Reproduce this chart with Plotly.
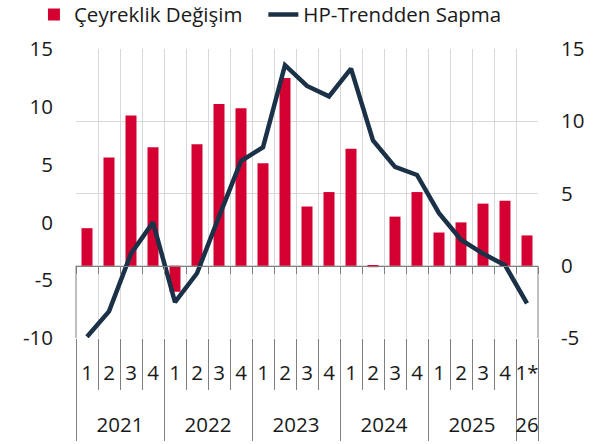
import plotly.graph_objects as go

# ---- data ----
years = ["2021", "2021", "2021", "2021",
         "2022", "2022", "2022", "2022",
         "2023", "2023", "2023", "2023",
         "2024", "2024", "2024", "2024",
         "2025", "2025", "2025", "2025",
         "26"]
quarters = ["1", "2", "3", "4",
            "1", "2", "3", "4",
            "1", "2", "3", "4",
            "1", "2", "3", "4",
            "1", "2", "3", "4",
            "1*"]
ceyreklik_degisim = [2.6, 7.5, 10.4, 8.2,
                     -1.8, 8.4, 11.2, 10.9,
                     7.1, 13.0, 4.1, 5.1,
                     8.1, -0.1, 3.4, 5.1,
                     2.3, 3.0, 4.3, 4.5,
                     2.1]
hp_trendden_sapma = [-9.9, -7.7, -2.7, 0.0,
                     -6.9, -4.4, 0.5, 5.3,
                     6.5, 13.6, 11.8, 10.9,
                     13.3, 7.1, 4.8, 4.1,
                     0.8, -1.5, -2.7, -3.7,
                     -7.0]
right_ticks = [-5, 0, 5, 10, 15]
right_labels = ["-5", "0", "5", "10", "15"]
left_ticks = [-10, -5, 0, 5, 10, 15]
left_labels = ["-10", "-5", "0", "5", "10", "15"]

RED = "#D50032"
NAVY = "#1B3147"
GRID = "#D9D9D9"
AXIS = "#7F7F7F"
TXT = "#1A1A1A"
FONT = "Open Sans"
FS = 20.5
PAD = "\u00a0\u00a0\u00a0"  # extra spacing after the first legend entry

# ---- derived category helpers ----
n = len(quarters)
keys = [f"{y}-Q{q}" for y, q in zip(years, quarters)]
boundaries = [i - 0.5 for i in range(n + 1)]
year_names = []
for y in years:
    if y not in year_names:
        year_names.append(y)
year_idx = {y: [i for i, v in enumerate(years) if v == y] for y in year_names}
year_centers = [sum(year_idx[y]) / len(year_idx[y]) for y in year_names]
year_bounds = [year_idx[year_names[0]][0] - 0.5] + [year_idx[y][-1] + 0.5 for y in year_names]
r_min, r_max = right_ticks[0], right_ticks[-1]
zero_pos = (0 - r_min) / (r_max - r_min)
xrange = [boundaries[0], boundaries[-1]]

fig = go.Figure()
fig.add_trace(go.Bar(
    x=keys, y=ceyreklik_degisim, name="Çeyreklik Değişim" + PAD,
    marker=dict(color=RED, line=dict(width=0)), width=0.5,
    xaxis="x", yaxis="y",
))
fig.add_trace(go.Scatter(
    x=keys, y=hp_trendden_sapma, name="HP-Trendden Sapma",
    mode="lines", line=dict(color=NAVY, width=4.5),
    xaxis="x", yaxis="y2",
))
# invisible helper traces so the decorative overlay axes get drawn
for ax in ["x2", "x3", "x4"]:
    fig.add_trace(go.Scatter(x=[None], y=[None], xaxis=ax, yaxis="y",
                             showlegend=False, hoverinfo="skip"))

fig.update_layout(
    width=602, height=444,
    margin=dict(l=76, r=64, t=49, b=106, autoexpand=False),
    paper_bgcolor="white", plot_bgcolor="white",
    font=dict(family=FONT, size=FS, color=TXT),
    showlegend=True,
    legend=dict(orientation="h", x=-0.091, xanchor="left",
                y=1.119, yanchor="middle",
                font=dict(size=FS, color=TXT), bgcolor="rgba(0,0,0,0)",
                itemclick=False),
    xaxis=dict(
        type="category", categoryorder="array", categoryarray=keys,
        range=xrange, tickmode="array", tickvals=keys, ticktext=quarters,
        showgrid=True, gridcolor=GRID, gridwidth=1,
        tickson="boundaries", ticks="outside", ticklen=51, tickcolor=AXIS,
        tickfont=dict(size=FS, color=TXT), tickangle=0, ticklabelstandoff=20,
        showline=False, zeroline=False, automargin=False,
    ),
    xaxis2=dict(
        overlaying="x", anchor="free", position=zero_pos,
        range=xrange, tickvals=boundaries,
        ticks="outside", ticklen=7, tickcolor=AXIS,
        showline=True, linecolor=AXIS, linewidth=1,
        showticklabels=False, showgrid=False, zeroline=False, automargin=False,
    ),
    xaxis3=dict(
        overlaying="x", anchor="y", side="bottom",
        range=xrange, tickvals=year_bounds,
        ticks="outside", ticklen=102, tickcolor=AXIS,
        showline=False, showticklabels=False, showgrid=False, zeroline=False,
        automargin=False,
    ),
    xaxis4=dict(
        overlaying="x", anchor="y", side="bottom",
        range=xrange, tickvals=year_centers, ticktext=year_names,
        ticks="", tickfont=dict(size=FS, color=TXT), ticklabelstandoff=72,
        showline=False, showgrid=False, zeroline=False, automargin=False,
    ),
    yaxis=dict(
        side="right", range=[r_min, r_max], tickvals=right_ticks,
        ticktext=right_labels,
        showgrid=True, gridcolor=GRID, gridwidth=1, zeroline=False,
        ticks="", ticklabelstandoff=22, tickfont=dict(size=FS, color=TXT),
        showline=False, automargin=False,
    ),
    yaxis2=dict(
        overlaying="y", side="left", range=[left_ticks[0], left_ticks[-1]],
        tickvals=left_ticks, ticktext=left_labels,
        showgrid=False, zeroline=False,
        ticks="", ticklabelstandoff=22, tickfont=dict(size=FS, color=TXT),
        showline=False, automargin=False,
    ),
    shapes=[
        dict(type="line", xref="paper", yref="y", x0=0, x1=0, y0=0, y1=r_min,
             line=dict(color=AXIS, width=1)),
        dict(type="line", xref="paper", yref="y", x0=1, x1=1, y0=0, y1=r_min,
             line=dict(color=AXIS, width=1)),
    ],
)

fig.write_html("out.html", config={"displayModeBar": False},
               post_script="document.body.style.margin='0';")
